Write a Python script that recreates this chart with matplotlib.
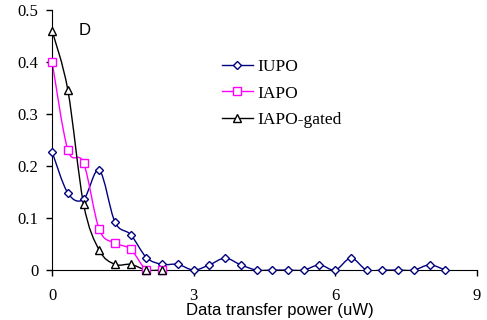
import numpy as np
import matplotlib
matplotlib.use("Agg")
import matplotlib.pyplot as plt
from matplotlib.path import Path
from matplotlib.patches import PathPatch
from matplotlib.lines import Line2D

# data (x step = 1/3 uW)
x_iupo = np.arange(26) / 3.0
iupo = [0.227, 0.148, 0.136, 0.192, 0.092, 0.068, 0.024, 0.011, 0.011, 0.0,
        0.010, 0.023, 0.010, 0.0, 0.0, 0.0, 0.0, 0.010, 0.0, 0.023,
        0.0, 0.0, 0.0, 0.0, 0.010, 0.0]
x_iapo = np.arange(8) / 3.0
iapo = [0.40, 0.231, 0.206, 0.078, 0.052, 0.040, 0.0, 0.0]
iapo_gated = [0.46, 0.346, 0.127, 0.038, 0.011, 0.011, 0.0, 0.0]

names = ["IUPO", "IAPO", "IAPO-gated"]
colors = ["#000080", "#ff00ff", "black"]
markers = ["D", "s", "^"]
msizes = [4.5, 5.5, 6]


def smooth_path(xs, ys):
    # excel style smoothed line: catmull-rom turned into bezier segments
    p = np.column_stack([xs, ys])
    verts = [p[0]]
    codes = [Path.MOVETO]
    n = len(p)
    for i in range(n - 1):
        p0 = p[i - 1] if i > 0 else p[i]
        p3 = p[i + 2] if i + 2 < n else p[i + 1]
        c1 = p[i] + (p[i + 1] - p0) / 6.0
        c2 = p[i + 1] - (p3 - p[i]) / 6.0
        verts += [c1, c2, p[i + 1]]
        codes += [Path.CURVE4] * 3
    return Path(verts, codes)


fig = plt.figure(figsize=(4.87, 3.2), dpi=100)
ax = fig.add_axes([0.107, 0.156, 0.872, 0.813])

series = [(x_iupo, iupo), (x_iapo, iapo), (x_iapo, iapo_gated)]
handles = []
for (xs, ys), c, m, ms, name in zip(series, colors, markers, msizes, names):
    ax.add_patch(PathPatch(smooth_path(xs, ys), facecolor="none", edgecolor=c, lw=1.0, zorder=2))
    ax.plot(xs, ys, ls="none", marker=m, ms=ms, mfc="white", mec=c, mew=1.0, zorder=3, clip_on=False)
    handles.append(Line2D([], [], color=c, lw=1.0, marker=m, ms=ms, mfc="white", mec=c, mew=1.0))

ax.set_xlim(0, 9)
ax.set_ylim(0, 0.5)
ax.set_xticks([0, 3, 6, 9])
ax.set_yticks([0, 0.1, 0.2, 0.3, 0.4, 0.5])
ax.set_yticklabels(["0", "0.1", "0.2", "0.3", "0.4", "0.5"])
for lab in ax.get_xticklabels() + ax.get_yticklabels():
    lab.set_family("Liberation Serif")
    lab.set_fontsize(12)
ax.tick_params(direction="out", length=4, width=1, colors="black")
ax.tick_params(axis="y", pad=6)
ax.tick_params(axis="x", pad=9)
ax.spines["top"].set_visible(False)
ax.spines["right"].set_visible(False)

ax.set_xlabel("Data transfer power (uW)", family="Liberation Sans", fontsize=12)
ax.xaxis.set_label_coords(0.536, -0.125)
ax.text(0.57, 0.46, "D", family="Liberation Sans", fontsize=12, va="center")

leg = ax.legend(handles, names, loc="upper left", bbox_to_anchor=(0.384, 0.84), borderaxespad=0,
                frameon=False, prop={"family": "Liberation Serif", "size": 12.5}, handlelength=1.75,
                handletextpad=0.3, labelspacing=0.62)

fig.savefig("out.png")
